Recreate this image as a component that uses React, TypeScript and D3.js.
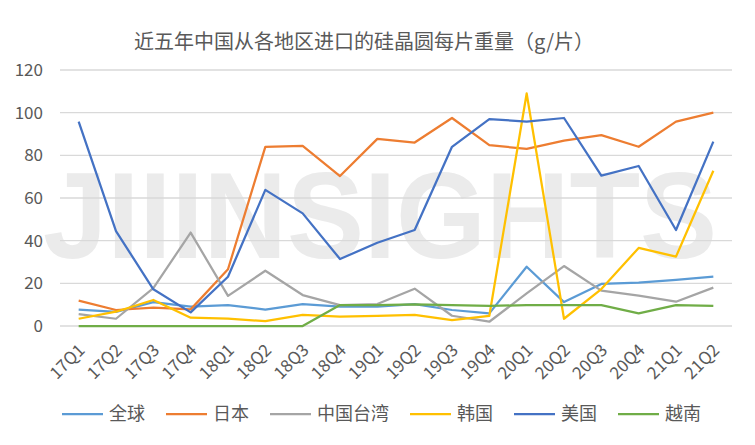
import * as d3 from "d3";

const quarters = [
  "17Q1", "17Q2", "17Q3", "17Q4", "18Q1", "18Q2", "18Q3", "18Q4", "19Q1",
  "19Q2", "19Q3", "19Q4", "20Q1", "20Q2", "20Q3", "20Q4", "21Q1", "21Q2",
];

const global = [7.7, 6.6, 11.2, 9.1, 9.8, 7.7, 10.3, 9.1, 9.1, 10.3, 7.5, 5.9, 27.8, 11.2, 19.7, 20.3, 21.6, 23.1];
const japan = [11.9, 7.5, 8.6, 7.8, 26.6, 84, 84.4, 70.3, 87.7, 86, 97.5, 84.8, 83, 86.9, 89.5, 84, 95.8, 100];
const taiwan = [5.6, 3.4, 17.7, 43.8, 14.1, 25.9, 14.5, 9.8, 10.3, 17.5, 4.8, 2, 15.3, 28.1, 16.6, 14.2, 11.4, 18];
const korea = [3.4, 6.7, 12.2, 3.9, 3.4, 2.3, 5.2, 4.4, 4.8, 5.2, 2.8, 4.8, 109, 3.4, 17.3, 36.6, 32.5, 72.8];
const usa = [95.8, 44.5, 17.2, 6.4, 23.1, 63.8, 52.8, 31.4, 39, 45, 84, 97, 95.8, 97.5, 70.5, 75, 45, 86.4];
const vietnam = [0, 0, 0, 0, 0, 0, 0, 9.8, 9.8, 10.1, 9.8, 9.4, 9.8, 9.8, 9.8, 5.9, 9.8, 9.4];

const yTicks = [0, 20, 40, 60, 80, 100, 120];

const series = [
  { name: "全球", values: global, color: "#5B9BD5" },
  { name: "日本", values: japan, color: "#ED7D31" },
  { name: "中国台湾", values: taiwan, color: "#A5A5A5" },
  { name: "韩国", values: korea, color: "#FFC000" },
  { name: "美国", values: usa, color: "#4472C4" },
  { name: "越南", values: vietnam, color: "#70AD47" },
];

const W = 755;
const H = 445;
const font = "'Noto Sans CJK SC', 'Noto Sans', sans-serif";
const textColor = "#595959";

export default function App() {
  const x = d3.scalePoint<string>().domain(quarters).range([60, 732]).padding(0.5);
  const y = d3.scaleLinear().domain([0, 120]).range([326, 70]);

  const line = d3
    .line<number>()
    .x((_, i) => x(quarters[i]) ?? 0)
    .y((d) => y(d));

  // legend layout: line 41px, gap 6px, text, gap 21px
  let lx = 62;
  const legend = series.map((s) => {
    const item = { ...s, x: lx };
    lx += 41 + 6 + s.name.length * 18 + 21;
    return item;
  });

  return (
    <svg
      width={W}
      height={H}
      viewBox={`0 0 ${W} ${H}`}
      style={{ position: "absolute", left: 0, top: 0, background: "#fff" }}
      fontFamily={font}
    >
      <rect width={W} height={H} fill="#fff" />
      <text
        x={364}
        y={49}
        textAnchor="middle"
        fontSize={20}
        fill={textColor}
      >
        近五年中国从各地区进口的硅晶圆每片重量（g/片）
      </text>

      {/* watermark */}
      <text
        x={43}
        y={258}
        fontFamily="'Liberation Sans', Arial, sans-serif"
        fontWeight="bold"
        fontSize={122}
        fill="#ebebeb"
        textLength={674}
        lengthAdjust="spacingAndGlyphs"
      >
        JIIINSIGHTS
      </text>

      {/* gridlines and y labels */}
      {yTicks.map((t) => (
        <g key={t}>
          <line x1={60} x2={732} y1={y(t)} y2={y(t)} stroke="#d9d9d9" strokeWidth={1.3} />
          <text
            x={43}
            y={y(t)}
            dy="0.35em"
            textAnchor="end"
            fontSize={17}
            fill={textColor}
          >
            {t}
          </text>
        </g>
      ))}

      {/* x labels */}
      {quarters.map((q) => (
        <text
          key={q}
          transform={`translate(${(x(q) ?? 0) + 3},${347}) rotate(-45)`}
          textAnchor="end"
          dy="0.35em"
          fontSize={17}
          fill={textColor}
        >
          {q}
        </text>
      ))}

      {/* lines */}
      {series.map((s) => (
        <path
          key={s.name}
          d={line(s.values) ?? ""}
          fill="none"
          stroke={s.color}
          strokeWidth={2.25}
          strokeLinejoin="round"
        />
      ))}

      {/* legend */}
      {legend.map((s) => (
        <g key={s.name}>
          <line x1={s.x} x2={s.x + 41} y1={414} y2={414} stroke={s.color} strokeWidth={2.25} />
          <text x={s.x + 47} y={414} dy="0.35em" fontSize={18} fill={textColor}>
            {s.name}
          </text>
        </g>
      ))}
    </svg>
  );
}
